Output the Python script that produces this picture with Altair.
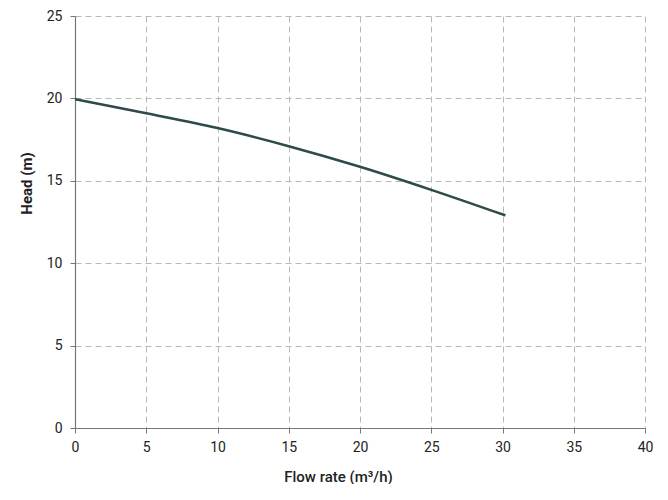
import altair as alt
import pandas as pd

flow = [0, 5, 10, 15, 20, 25, 30.2]
head = [19.95, 19.1, 18.2, 17.1, 15.85, 14.45, 12.9]

df = pd.DataFrame({"flow": flow, "head": head})

chart = alt.Chart(df).mark_line(color="#2f4a4a", strokeWidth=2.6, interpolate="monotone").encode(
    x=alt.X("flow:Q", scale=alt.Scale(domain=[0, 40], nice=False),
            axis=alt.Axis(title="Flow rate (m³/h)", values=list(range(0, 41, 5)),
                          titlePadding=15, labelPadding=7, titleFontSize=15,
                          titleX=263, titleAlign="center")),
    y=alt.Y("head:Q", scale=alt.Scale(domain=[0, 25], nice=False),
            axis=alt.Axis(title="Head (m)", values=list(range(0, 26, 5)),
                          labelPadding=8, titleFontSize=15, titleFontWeight=700,
                          titleX=-49, titleY=167, titleAngle=270,
                          titleAlign="center", titleBaseline="middle")),
).properties(
    width=570, height=412,
    autosize=alt.AutoSizeParams(type="none"),
    padding={"left": 67, "top": 8, "right": 15, "bottom": 56},
).configure_view(
    stroke=None
).configure_axis(
    grid=True,
    gridColor="#b8b8b8",
    gridDash=[6, 4],
    gridWidth=1,
    domainColor="#777777",
    domainWidth=1.2,
    tickColor="#777777",
    tickSize=5,
    labelFlush=False,
    labelFont="Roboto",
    labelFontSize=14,
    labelColor="#222222",
    titleFont="Roboto",
    titleFontWeight=500,
    titleColor="#222222",
)

chart.save("out.html", embed_options={"renderer": "svg", "actions": False})
